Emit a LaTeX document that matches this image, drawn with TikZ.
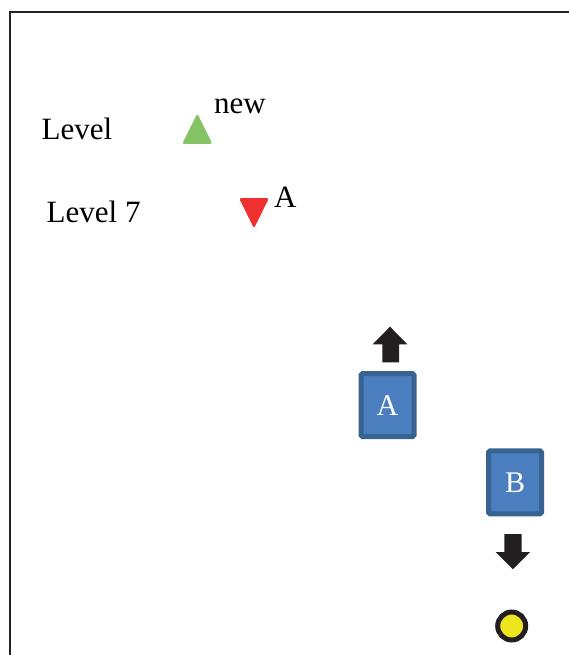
\documentclass[tikz,border=0pt]{standalone}
\usepackage{fontspec}
\setmainfont{Liberation Serif}
\definecolor{frame}{HTML}{222222}
\definecolor{tgreen}{HTML}{84C464}
\definecolor{tred}{HTML}{EE3030}
\definecolor{bfill}{HTML}{4A7EBE}
\definecolor{bedge}{HTML}{36638F}
\definecolor{arrowc}{HTML}{231F20}
\definecolor{dotfill}{HTML}{EDE51E}
\tikzset{
  lbl/.style={anchor=base west, inner sep=0pt, font=\fontsize{31}{36}\selectfont},
  bluebox/.style={draw=bedge, line width=5pt, fill=bfill, minimum width=53pt, minimum height=63pt, rounded corners=1.5pt, text=white, inner sep=0pt, font=\fontsize{30}{36}\selectfont},
  dot/.style={circle, draw=arrowc, line width=5pt, fill=dotfill, minimum size=28pt, inner sep=0pt},
}
\begin{document}
\begin{tikzpicture}[x=1pt,y=-1pt]
\useasboundingbox (0,0) rectangle (568,655);
% frame
\draw[frame, line width=2pt] (10,660) -- (10,12) -- (575,12);
% labels
\node[lbl] (lvl) at (41.5,140) {Level};
\node[lbl] (new) at (214,114) {new};
\node[lbl] (lvl7) at (46.5,222.5) {Level 7};
\node[lbl] (la) at (274,207) {A};
% triangles
\fill[tgreen, rounded corners=2.5pt] (182,144) -- (197.3,113.5) -- (212.5,144) -- cycle;
\fill[tred, rounded corners=2.5pt] (239,198) -- (269,198) -- (254,228.5) -- cycle;
% boxes
\node[bluebox] (A) at (387.5,405.2) {A};
\node[bluebox] (B) at (515,482.3) {B};
% arrows
\fill[arrowc] (382.3,362.3) -- (382.3,344.3) -- (372.7,344.3) -- (390,326.7) -- (407.3,344.3) -- (399,344.3) -- (399,362.3) -- cycle;
\fill[arrowc] (504.3,534) -- (521.7,534) -- (521.7,552) -- (530,552) -- (512.8,569.3) -- (495.7,552) -- (504.3,552) -- cycle;
% dot
\node[dot] (d) at (511.7,626) {};
\end{tikzpicture}
\end{document}
